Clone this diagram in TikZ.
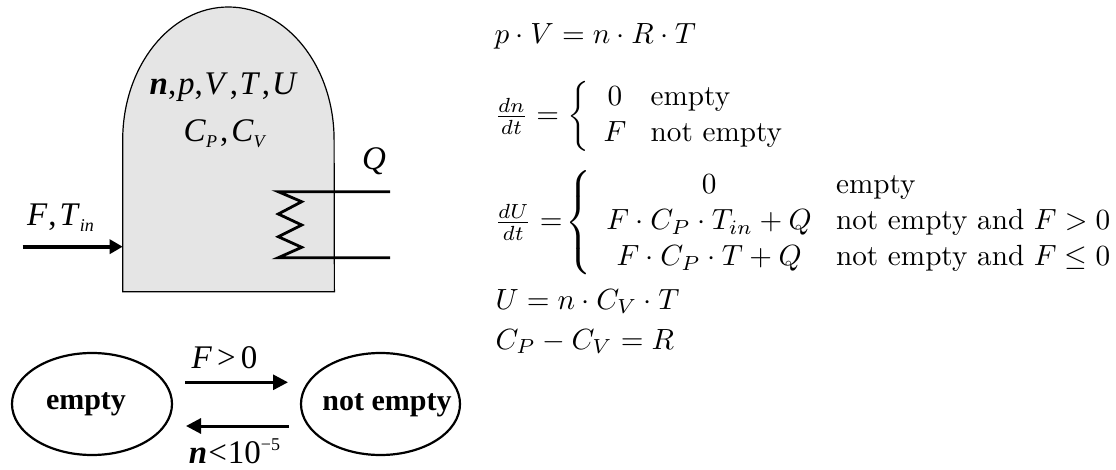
\documentclass[tikz,border=0pt]{standalone}
\usepackage{amsmath}
\usepackage{fontspec}
\setmainfont{Liberation Serif}
\usetikzlibrary{arrows.meta,shapes.geometric}
\newfontfamily\cmfont{Latin Modern Roman}
\tikzset{
  vessel/.style={draw=black,fill=black!10,line width=1.2},
  thick line/.style={line width=2.8},
  flow/.style={line width=3.8,-{Triangle[length=13,width=14]}},
  trans/.style={line width=3,-{Triangle[length=15,width=15]}},
  state/.style={draw=black,line width=2.2,ellipse,inner sep=0pt},
  lab/.style={inner sep=0pt,anchor=base,font=\fontsize{33}{35}\selectfont},
  slab/.style={inner sep=0pt,anchor=base,font=\bfseries\fontsize{30}{32}\selectfont},
  eq/.style={inner sep=0pt,anchor=base west,scale=2.92,font=\cmfont\fontsize{10}{12.3}\selectfont}
}
\newcommand{\ti}[1]{\textit{#1}}
\newcommand{\low}[1]{\raisebox{-6pt}{\fontsize{18}{18}\selectfont\textit{#1}}}
\newcommand{\gp}{\hspace{1.8pt}}
\begin{document}
\begin{tikzpicture}[x=1pt,y=-1pt]
\useasboundingbox (0,0) rectangle (1116,470);
\draw[vessel] (122.7,291.7) -- (122.7,140) arc[start angle=180,end angle=360,x radius=105.7,y radius=133] -- (334.4,291.7) -- cycle;
\coordinate (tl) at (278.3,191.7);
\coordinate (tr) at (390,191.7);
\coordinate (bl) at (278.3,257.7);
\coordinate (br) at (390,257.7);
\draw[thick line] (tr) -- (tl) -- (301.7,201.7) -- (278.3,214) -- (301.7,225) -- (278.3,236.7) -- (301.7,247.3) -- (bl) -- (br);
\coordinate (fin) at (22.7,246.7);
\coordinate (fout) at (122.7,246.7);
\draw[flow] (fin) -- (fout);
\node[lab] (vars) at (223.7,95) {\textbf{\ti{n}},\gp\ti{p},\gp\ti{V}\gp,\gp\ti{T}\gp,\gp\ti{U}};
\node[lab] (caps) at (225,141.7) {\ti{C}\low{P}\hspace{3pt},\hspace{3pt}\ti{C}\low{V}};
\node[lab] (q) at (374,170) {\ti{Q}};
\node[lab] (f) at (60.5,226) {\ti{F}\hspace{1pt},\hspace{3pt}\ti{T}\low{in}};
\node[state,minimum width=160,minimum height=102] (e) at (92,404) {};
\node[state,minimum width=159,minimum height=102] (ne) at (380.5,404) {};
\node[slab] (et) at (86,409) {empty};
\node[slab] (nt) at (387,410) {not empty};
\coordinate (a1) at (185,382.3);
\coordinate (a2) at (288,382.3);
\coordinate (b1) at (289,426);
\coordinate (b2) at (186,426);
\draw[trans] (a1) -- (a2);
\draw[trans] (b1) -- (b2);
\node[lab] (c1) at (224.5,368) {\ti{F}\hspace{5pt}>\hspace{5pt}0};
\node[lab] (c2) at (234.5,463) {\textbf{\ti{n}}\hspace{1pt}<\hspace{1pt}10\raisebox{13pt}{\fontsize{18}{18}\selectfont −5}};
\node[eq] (e1) at (494,44) {$p\cdot V=n\cdot R\cdot T$};
\node[eq] (e2) at (494,124) {$\frac{dn}{dt}=\left\{\begin{array}{c@{\hspace{8.3pt}}l}0 & \text{empty}\\ F & \text{not empty}\end{array}\right.$};
\node[eq] (e3) at (494,230) {$\frac{dU}{dt}=\!\left\{\begin{array}{c@{\hspace{8.3pt}}l} 0 & \text{empty}\\ F\cdot C_P\cdot T_{in}+Q & \text{not empty and }F>0\\ F\cdot C_P\cdot T+Q & \text{not empty and }F\le 0\end{array}\right.$};
\node[eq] (e4) at (495,309) {$U=n\cdot C_V\cdot T$};
\node[eq] (e5) at (495,349) {$C_P-C_V=R$};
\end{tikzpicture}
\end{document}
